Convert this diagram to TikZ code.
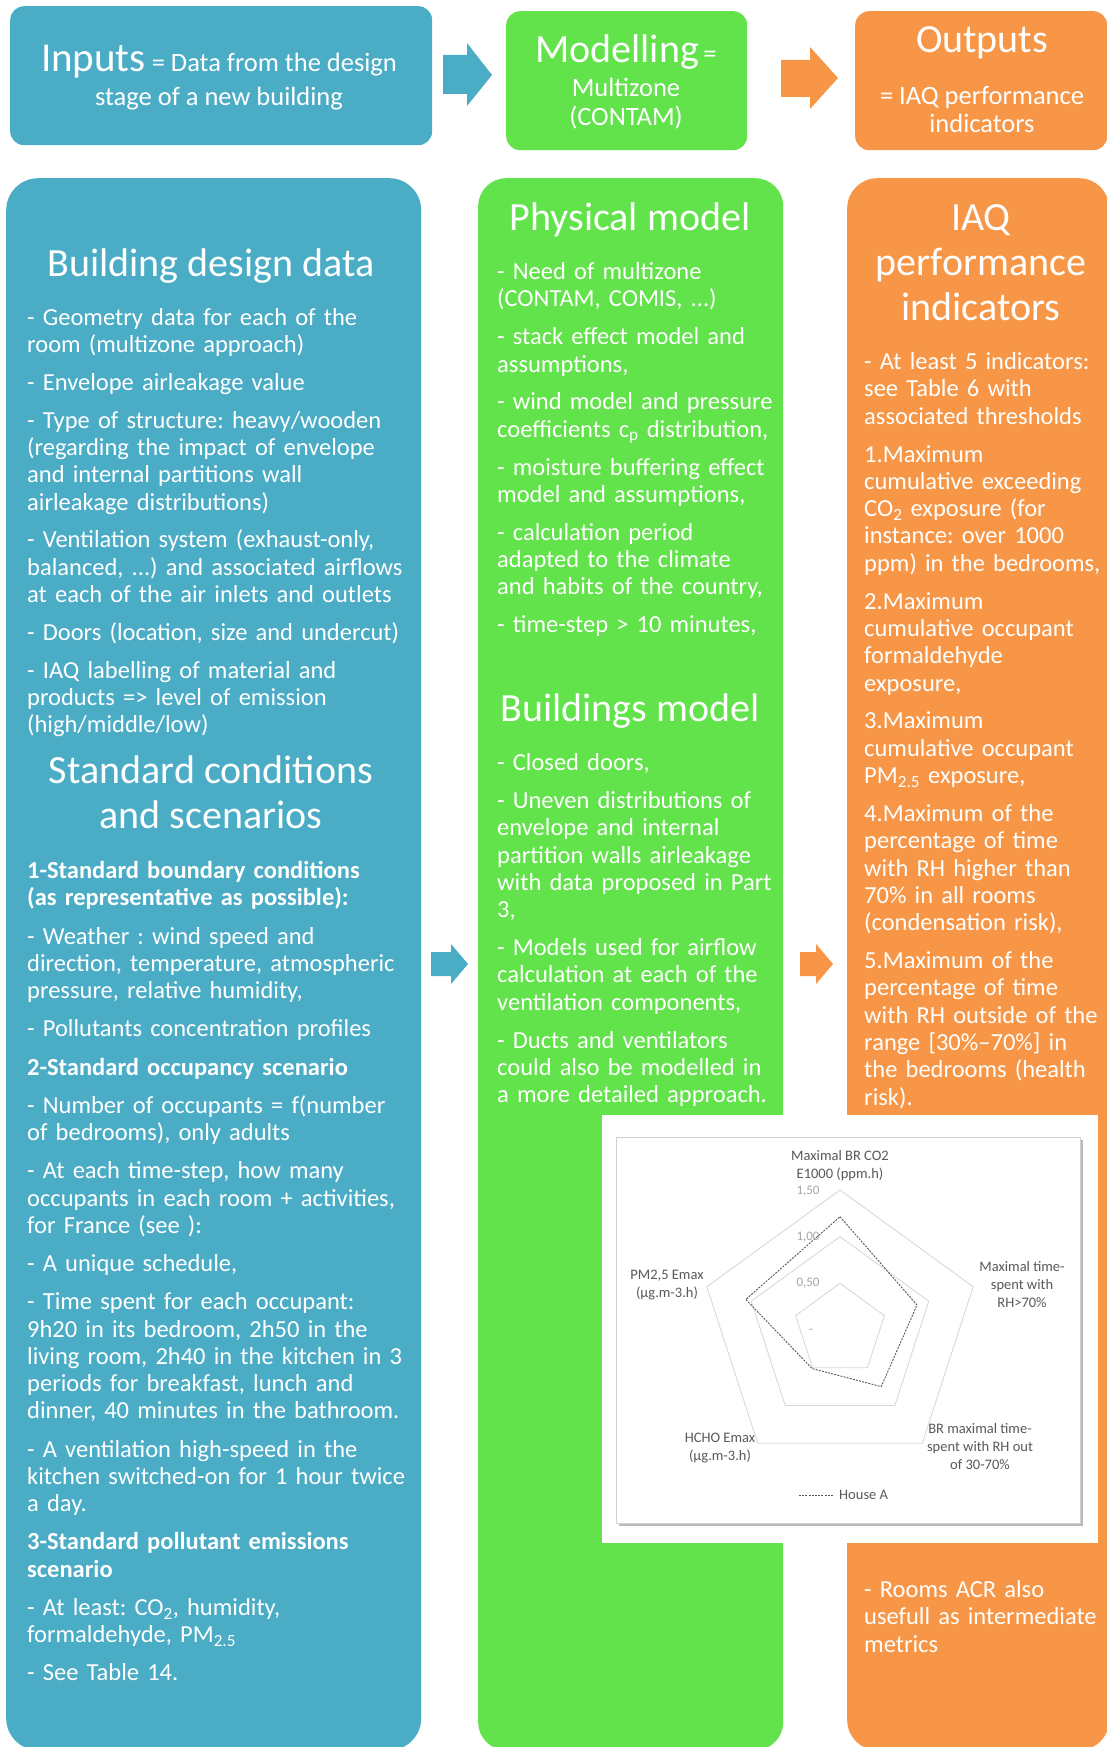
\documentclass[tikz,border=0pt]{standalone}
\usepackage{fontspec}
\setmainfont{Carlito}
\usetikzlibrary{calc}
\definecolor{cblue}{HTML}{4BACC6}
\definecolor{cgreen}{HTML}{62E34B}
\definecolor{corange}{HTML}{F79646}
\definecolor{cring}{HTML}{D9D9D9}
\definecolor{cdata}{HTML}{595959}
\definecolor{clabel}{HTML}{595959}
\definecolor{ctick}{HTML}{A6A6A6}
\frenchspacing
\begin{document}
\frenchspacing
\begin{tikzpicture}[x=1pt,y=-1pt,
  topbox/.style={rounded corners=14pt, inner sep=0pt, anchor=north west},
  colbox/.style={rounded corners=32pt, inner sep=0pt, anchor=north west},
  body/.style={text=white, font=\fontsize{24.5}{27.3}\selectfont, align=left, text width=420pt, inner sep=0pt, anchor=base west},
  head/.style={text=white, font=\fontsize{40}{45}\selectfont, inner sep=0pt, anchor=base},
  subt/.style={text=white, font=\fontsize{26.5}{29}\selectfont, inner sep=0pt, anchor=base},
  ring/.style={draw=cring, line width=0.9pt},
  lab/.style={text=clabel, font=\fontsize{14.5}{18}\selectfont, align=center, inner sep=0pt},
  tick/.style={text=ctick, font=\fontsize{13}{14}\selectfont, inner sep=0pt},
]
\fill[white] (0,0) rectangle (1106,1747);
\useasboundingbox (0,0) rectangle (1106,1747);

% ---------- top row ----------
\node[topbox, fill=cblue, minimum width=422pt, minimum height=139pt] (inputs) at (10,6) {};
\node[topbox, fill=cgreen, minimum width=241pt, minimum height=139pt] (modelling) at (506,11) {};
\node[topbox, fill=corange, minimum width=252pt, minimum height=139pt] (outputs) at (855,11) {};

\node[subt] (inT1) at (219,72) {{\fontsize{41}{45}\selectfont Inputs}\ = Data from the design};
\node[subt] (inT2) at (219,106) {stage of a new building};
\node[subt] (moT1) at (626,63) {{\fontsize{40}{45}\selectfont Modelling}\,=};
\node[subt] (moT2) at (626,97) {Multizone};
\node[subt] (moT3) at (626,126) {(CONTAM)};
\node[head] (ouT1) at (982,53) {Outputs};
\node[subt] (ouT2) at (982,104.5) {= IAQ performance};
\node[subt] (ouT3) at (982,132.5) {indicators};

% top block arrows
\fill[cblue] (443,55) -- (467,55) -- (467,43) -- (492,75) -- (467,106) -- (467,94) -- (443,94) -- cycle;
\fill[corange] (781,60) -- (810,60) -- (810,47) -- (838,78) -- (810,109) -- (810,97) -- (781,97) -- cycle;

% ---------- columns ----------
\node[colbox, fill=cblue, minimum width=415pt, minimum height=1572pt] (colIn) at (6,178) {};
\node[colbox, fill=cgreen, minimum width=305pt, minimum height=1572pt, rounded corners=28pt] (colMo) at (478,178) {};
\node[colbox, fill=corange, minimum width=262pt, minimum height=1572pt, rounded corners=30pt] (colOu) at (847,178) {};

% middle block arrows
\fill[cblue] (431,952) -- (451,952) -- (451,944) -- (468,964) -- (451,984) -- (451,976) -- (431,976) -- cycle;
\fill[corange] (800,952) -- (816,952) -- (816,944) -- (833,964) -- (816,984) -- (816,976) -- (800,976) -- cycle;

% ---------- blue column text ----------
\node[head] (hBld) at (211,276) {Building design data};
\node[body] (tBld) at (27,325) {%
- Geometry data for each of the\\
room (multizone approach)\\[10.6pt]
- Envelope airleakage value\\[10.6pt]
- Type of structure: heavy/wooden\\
(regarding the impact of envelope\\
and internal partitions wall\\
airleakage distributions)\\[10.6pt]
- Ventilation system (exhaust-only,\\
balanced, ...) and associated airflows\\
at each of the air inlets and outlets\\[10.6pt]
- Doors (location, size and undercut)\\[10.6pt]
- IAQ labelling of material and\\
products => level of emission\\
(high/middle/low)};

\node[head] (hStd1) at (211,783.5) {Standard conditions};
\node[head] (hStd2) at (211,828.5) {and scenarios};
\node[body] (tStd) at (27,878.5) {%
\textbf{1-Standard boundary conditions}\\
\textbf{(as representative as possible):}\\[10.9pt]
- Weather : wind speed and\\
direction, temperature, atmospheric\\
pressure, relative humidity,\\[10.9pt]
- Pollutants concentration profiles\\[10.9pt]
\textbf{2-Standard occupancy scenario}\\[10.9pt]
- Number of occupants = f(number\\
of bedrooms), only adults\\[10.9pt]
- At each time-step, how many\\
occupants in each room + activities,\\
for France (see ):\\[10.9pt]
- A unique schedule,\\[10.9pt]
- Time spent for each occupant:\\
9h20 in its bedroom, 2h50 in the\\
living room, 2h40 in the kitchen in 3\\
periods for breakfast, lunch and\\
dinner, 40 minutes in the bathroom.\\[10.9pt]
- A ventilation high-speed in the\\
kitchen switched-on for 1 hour twice\\
a day.\\[10.9pt]
\textbf{3-Standard pollutant emissions}\\
\textbf{scenario}\\[10.9pt]
- At least: CO\textsubscript{2}, humidity,\\
formaldehyde, PM\textsubscript{2.5}\\[10.9pt]
- See Table 14.};

% ---------- green column text ----------
\node[head] (hPhy) at (630,230) {Physical model};
\node[body] (tPhy) at (497,279.5) {%
- Need of multizone\\
(CONTAM, COMIS, ...)\\[10.6pt]
- stack effect model and\\
assumptions,\\[10.6pt]
- wind model and pressure\\
coefficients c\textsubscript{p} distribution,\\[10.6pt]
- moisture buffering effect\\
model and assumptions,\\[10.6pt]
- calculation period\\
adapted to the climate\\
and habits of the country,\\[10.6pt]
- time-step > 10 minutes,};

\node[head] (hBm) at (630,721.5) {Buildings model};
\node[body] (tBm) at (497,770.5) {%
- Closed doors,\\[10.6pt]
- Uneven distributions of\\
envelope and internal\\
partition walls airleakage\\
with data proposed in Part\\
3,\\[10.6pt]
- Models used for airflow\\
calculation at each of the\\
ventilation components,\\[10.6pt]
- Ducts and ventilators\\
could also be modelled in\\
a more detailed approach.};

% ---------- orange column text ----------
\node[head] (hIaq1) at (981,230.5) {IAQ};
\node[head] (hIaq2) at (981,275.5) {performance};
\node[head] (hIaq3) at (981,320.5) {indicators};
\node[body] (tIaq) at (864,369.5) {%
- At least 5 indicators:\\
see Table 6 with\\
associated thresholds\\[10.6pt]
1.Maximum\\
cumulative exceeding\\
CO\textsubscript{2} exposure (for\\
instance: over 1000\\
ppm) in the bedrooms,\\[10.6pt]
2.Maximum\\
cumulative occupant\\
formaldehyde\\
exposure,\\[10.6pt]
3.Maximum\\
cumulative occupant\\
PM\textsubscript{2.5} exposure,\\[10.6pt]
4.Maximum of the\\
percentage of time\\
with RH higher than\\
70\% in all rooms\\
(condensation risk),\\[10.6pt]
5.Maximum of the\\
percentage of time\\
with RH outside of the\\
range [30\%--70\%] in\\
the bedrooms (health\\
risk).};
\node[body] (tAcr) at (864,1597.5) {%
- Rooms ACR also\\
usefull as intermediate\\
metrics};

% ---------- radar chart ----------
\node[fill=white, minimum width=496pt, minimum height=428pt, inner sep=0pt, anchor=north west] (chartbg) at (602,1115) {};
\fill[gray!55] (619,1140) rectangle (1083,1526);
\node[fill=white, draw=gray!35, line width=1pt, minimum width=464pt, minimum height=386pt, inner sep=0pt, anchor=north west] (chartfr) at (616,1137) {};

\coordinate (rc) at (840,1330);
\foreach \r in {46.67,93.33,140}{
  \draw[ring] ($(rc)+(0,-\r)$) \foreach \a in {72,144,216,288}{ -- ($(rc)+({\r*sin(\a)},{-\r*cos(\a)})$)} -- cycle;
}
\draw[cdata, line width=0.9pt, dash pattern=on 2pt off 1.2pt, line join=round]
  (840,1216.7) -- (917,1305) -- (881.2,1386.6) -- (812,1368.5) -- (745.8,1299.4) -- cycle;

\node[tick] (t150) at (808,1191) {1,50};
\node[tick] (t100) at (808,1237) {1,00};
\node[tick] (t050) at (808,1283) {0,50};
\node[tick] (t000) at (811,1331) {-};

\node[lab] (lCO2) at (840,1166) {Maximal BR CO2\\E1000 (ppm.h)};
\node[lab] (lRH) at (1022,1285) {Maximal time-\\spent with\\RH>70\%};
\node[lab] (lRHo) at (980,1447) {BR maximal time-\\spent with RH out\\of 30-70\%};
\node[lab] (lHCHO) at (720,1448) {HCHO Emax\\(µg.m-3.h)};
\node[lab] (lPM) at (667,1285) {PM2,5 Emax\\(µg.m-3.h)};

\coordinate (legA) at (799,1495);
\coordinate (legB) at (833,1495);
\draw[cdata, line width=0.9pt, dash pattern=on 2pt off 1.2pt] (legA) -- (legB);
\node[lab, anchor=west] (lHouse) at (839,1495) {House A};
\end{tikzpicture}
\end{document}
